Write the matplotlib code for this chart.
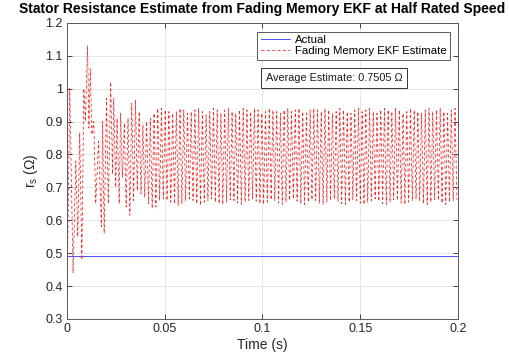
import matplotlib
matplotlib.use('Agg')
import matplotlib.pyplot as plt
import numpy as np

plt.rcParams['font.family'] = ['Liberation Sans', 'DejaVu Sans']
plt.rcParams['mathtext.fontset'] = 'custom'
plt.rcParams['mathtext.rm'] = 'Liberation Sans'

# actual stator resistance (ohm)
rs_actual = 0.49
t_end = 0.2
avg_estimate = 0.7505

# start-up transient of the estimate, read point by point
t_trans = [0.0, 0.0015, 0.0032, 0.0046, 0.0056, 0.0066, 0.0077, 0.0087, 0.0095,
           0.0106, 0.0113, 0.0120, 0.0128, 0.0138, 0.0148, 0.0162, 0.0177, 0.0183,
           0.0191, 0.0203, 0.0212, 0.0224, 0.0234, 0.0240, 0.0250, 0.0257, 0.0268]
r_trans = [0.30, 1.00, 0.44, 0.78, 0.55, 0.865, 0.48, 1.00, 0.90,
           1.13, 0.88, 1.06, 0.86, 0.90, 0.65, 0.84, 0.58, 0.90,
           0.56, 0.97, 0.65, 1.02, 0.74, 0.97, 0.70, 0.91, 0.65]

# oscillation after the transient: one peak and one trough per cycle
t_osc0 = 0.0275
half_period = 0.00095
peaks = [0.925, 0.895, 0.910, 0.955, 0.965, 0.930, 0.890, 0.900, 0.910, 0.925,
         0.940, 0.940, 0.935, 0.930, 0.925, 0.930, 0.940, 0.935, 0.925, 0.930,
         0.935, 0.940, 0.930, 0.920, 0.930, 0.940, 0.935, 0.925, 0.935, 0.940,
         0.930, 0.925, 0.935, 0.940, 0.935, 0.930, 0.940, 0.935, 0.925, 0.930,
         0.940, 0.935, 0.930, 0.925, 0.935, 0.940, 0.930, 0.935, 0.940, 0.930,
         0.925, 0.935, 0.940, 0.935, 0.930, 0.940, 0.935, 0.925, 0.930, 0.940,
         0.935, 0.930, 0.925, 0.935, 0.940, 0.930, 0.935, 0.940, 0.930, 0.925,
         0.935, 0.940, 0.935, 0.930, 0.940, 0.935, 0.925, 0.930, 0.940, 0.935,
         0.930, 0.925, 0.935, 0.940, 0.930, 0.935, 0.940, 0.930, 0.925, 0.935,
         0.940]
troughs = [0.730, 0.640, 0.615, 0.660, 0.690, 0.680, 0.670, 0.650, 0.636, 0.640,
           0.660, 0.665, 0.660, 0.655, 0.650, 0.645, 0.650, 0.660, 0.665, 0.660,
           0.650, 0.645, 0.655, 0.660, 0.665, 0.655, 0.650, 0.648, 0.655, 0.662,
           0.660, 0.652, 0.648, 0.655, 0.660, 0.665, 0.658, 0.650, 0.648, 0.655,
           0.662, 0.660, 0.652, 0.648, 0.655, 0.660, 0.665, 0.658, 0.650, 0.648,
           0.655, 0.662, 0.660, 0.652, 0.648, 0.655, 0.660, 0.665, 0.658, 0.650,
           0.648, 0.655, 0.662, 0.660, 0.652, 0.648, 0.655, 0.660, 0.665, 0.658,
           0.650, 0.648, 0.655, 0.662, 0.660, 0.652, 0.648, 0.655, 0.660, 0.665,
           0.658, 0.650, 0.648, 0.655, 0.662, 0.660, 0.652, 0.648, 0.655, 0.660,
           0.662]

r_osc = np.empty(2 * len(peaks))
r_osc[0::2] = peaks
r_osc[1::2] = troughs
t_osc = t_osc0 + np.arange(len(r_osc)) * half_period

t_est = np.concatenate([t_trans, t_osc])
r_est = np.concatenate([r_trans, r_osc])

fig = plt.figure(figsize=(5.1, 3.62), dpi=100)
ax = fig.add_axes([0.131, 0.119, 0.767, 0.818])

ax.plot([0, t_end], [rs_actual, rs_actual], color='#3030ff', lw=0.6, label='Actual')
ax.plot(t_est, r_est, color='#ff2020', lw=0.55, ls=(0, (4, 3)),
        label='Fading Memory EKF Estimate')

ax.set_xlim(0, 0.2)
ax.set_ylim(0.3, 1.2)
ax.set_xticks([0, 0.05, 0.1, 0.15, 0.2])
ax.set_xticklabels(['0', '0.05', '0.1', '0.15', '0.2'])
yt = np.round(np.arange(0.3, 1.21, 0.1), 1)
ax.set_yticks(yt)
ax.set_yticklabels(['%g' % v for v in yt])
ax.grid(True, color='#e3e3e3', lw=0.6)
ax.set_axisbelow(True)
ax.tick_params(direction='in', top=True, right=True, length=3.5, width=0.6,
               labelsize=9, colors='#262626', pad=3)
for s in ax.spines.values():
    s.set_color('#5a5a5a')
    s.set_linewidth(0.7)

ax.set_xlabel('Time (s)', fontsize=10, color='#262626', labelpad=2)
ax.set_ylabel(r'r$_\mathregular{s}$ (Ω)', fontsize=10, color='#262626', labelpad=4)
ax.set_title('Stator Resistance Estimate from Fading Memory EKF at Half Rated Speed',
             fontsize=10, fontweight='bold', pad=7)

leg = ax.legend(loc='upper right', bbox_to_anchor=(0.98, 0.97), fontsize=8.2,
                frameon=True, fancybox=False, edgecolor='#333333', borderpad=0.3,
                handlelength=2.6, handletextpad=0.4, labelspacing=0.1,
                borderaxespad=0)
leg.get_frame().set_linewidth(0.7)

ax.text(0.508, 0.813, 'Average Estimate: %.4f Ω' % avg_estimate, transform=ax.transAxes,
        fontsize=7.8, va='center', ha='left', color='#1a1a1a',
        bbox=dict(boxstyle='square,pad=0.45', fc='white', ec='#333333', lw=0.7))

fig.savefig('out.png', dpi=100)
